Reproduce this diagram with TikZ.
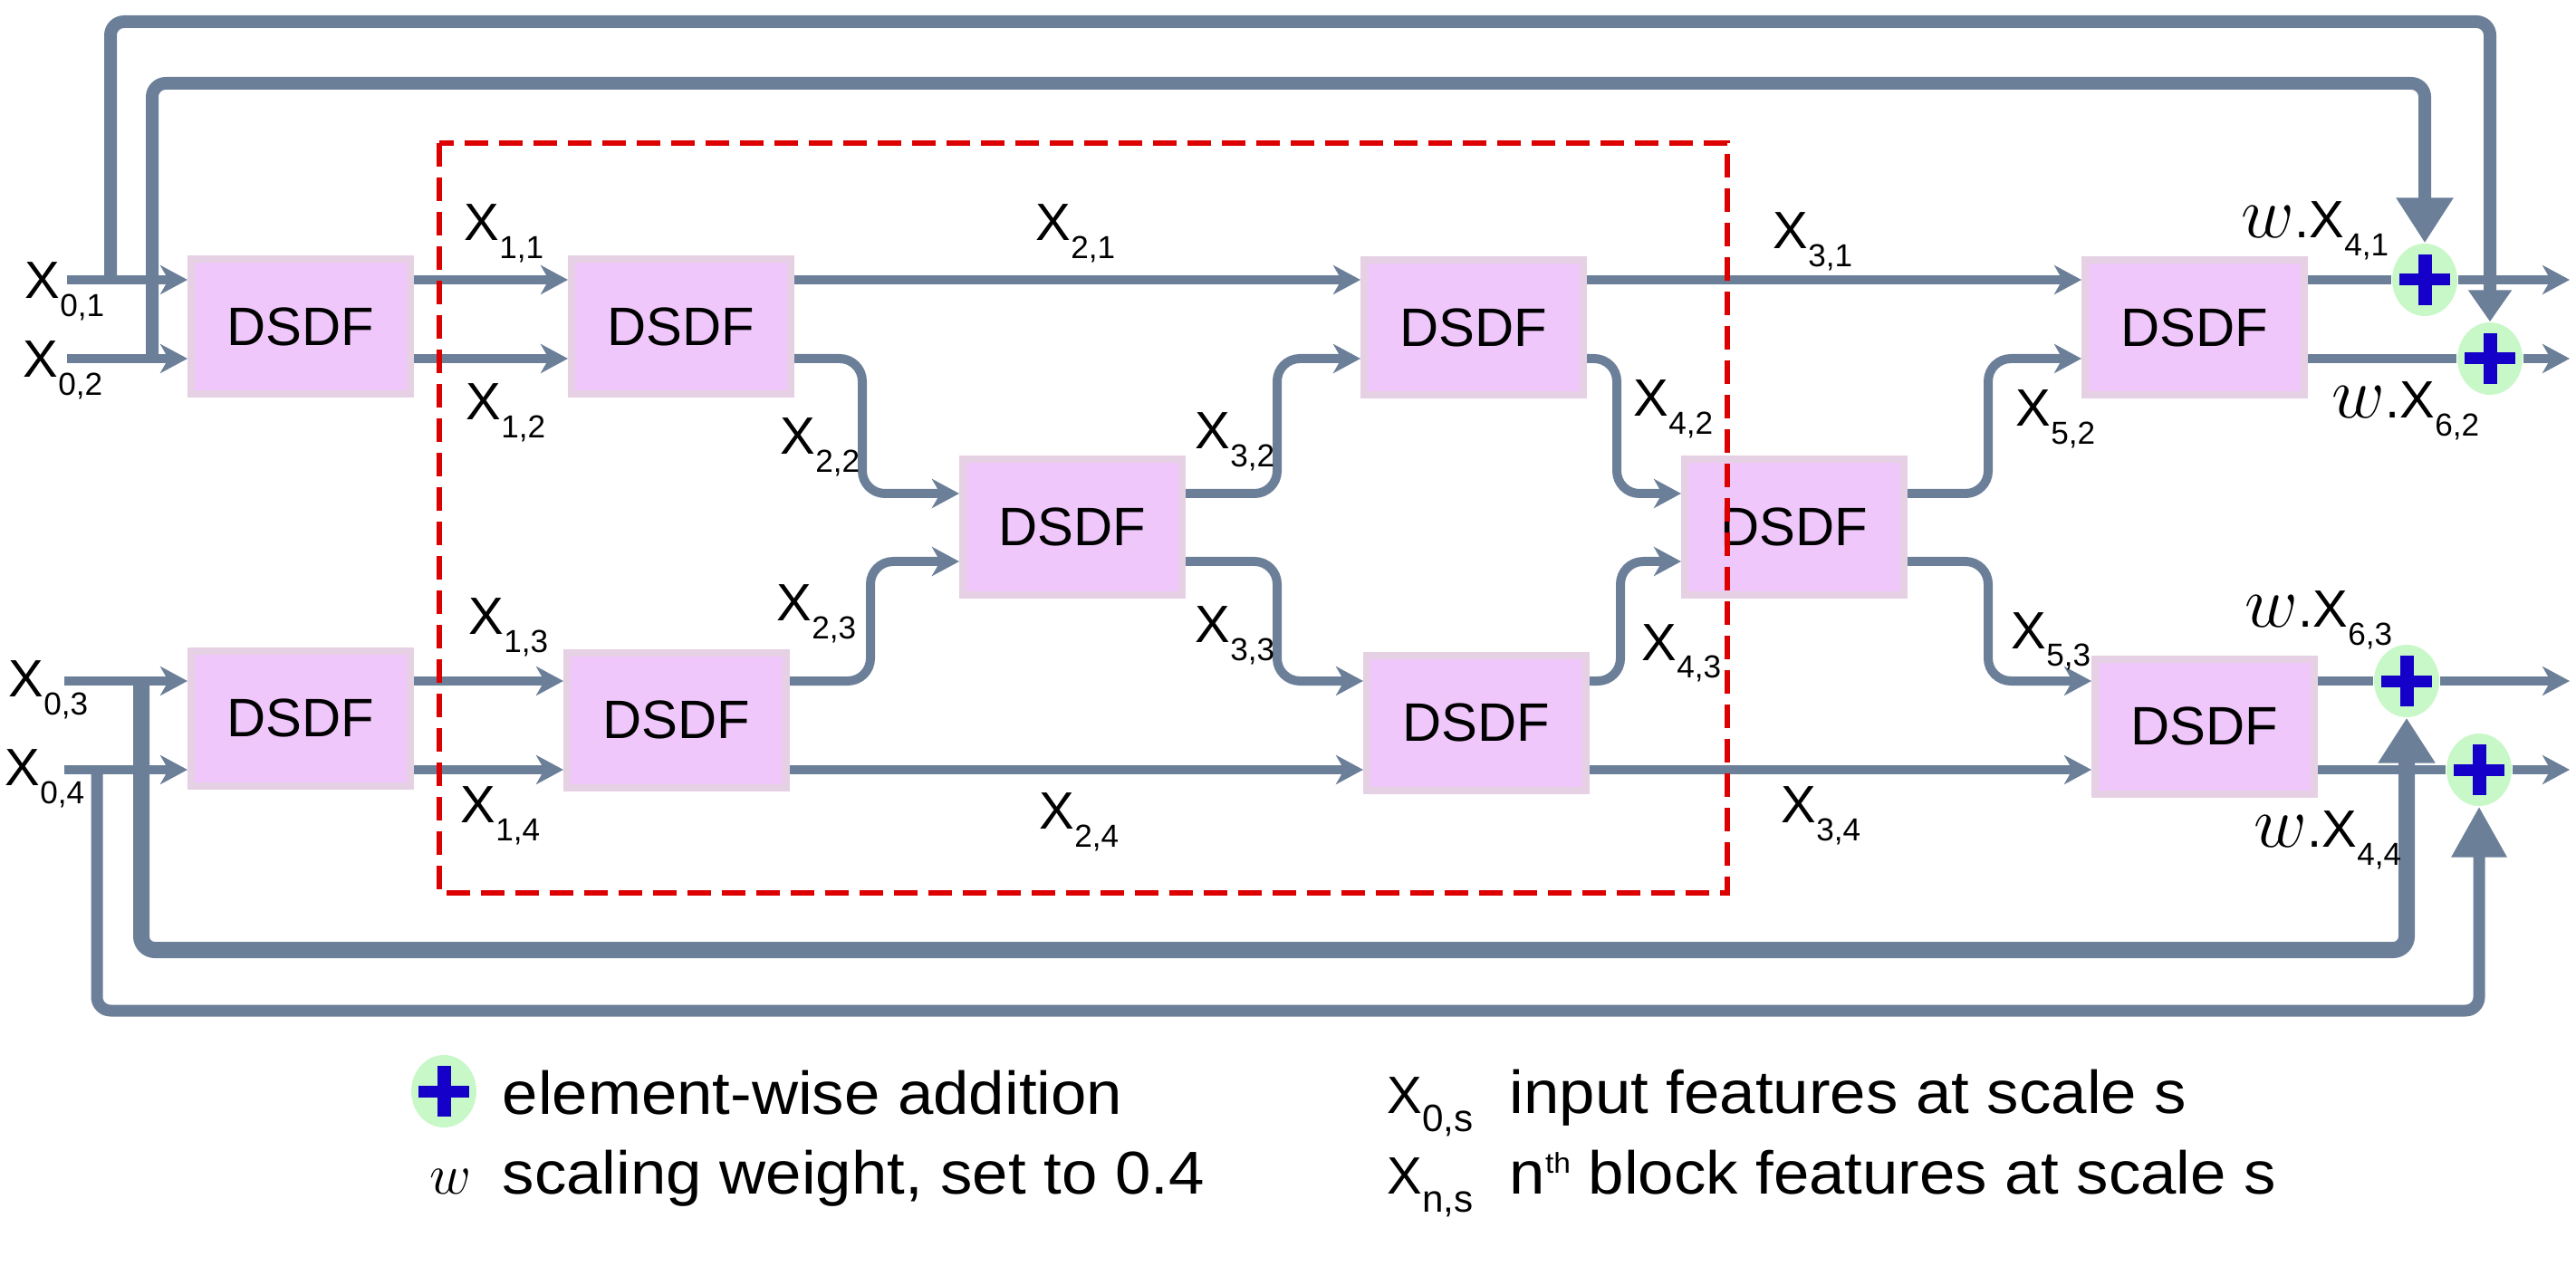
\documentclass[tikz,border=0pt]{standalone}
\usepackage{fix-cm}
\usepackage{fontspec}
\setmainfont{Liberation Sans}
\newfontfamily\legfont[FakeStretch=1.06]{Liberation Sans}
\usetikzlibrary{arrows.meta,shapes.geometric}

\definecolor{linegray}{RGB}{108,127,153}
\definecolor{boxfill}{RGB}{239,199,251}
\definecolor{boxedge}{RGB}{230,208,228}
\definecolor{addgreen}{RGB}{200,248,200}
\definecolor{addblue}{RGB}{20,0,200}
\definecolor{blockred}{RGB}{220,0,0}

\newcommand{\xs}[2][10]{X\raisebox{-2mm}{\fontsize{#1}{#1}\selectfont #2}}
\newcommand{\wdot}[1][23]{{\fontsize{#1}{#1}\selectfont$w$}.}

\tikzset{
  dsdf/.style={draw=boxedge, line width=0.8mm, fill=boxfill, minimum width=2.42cm, minimum height=1.49cm, inner sep=0pt, font=\fontsize{17}{20}\selectfont},
  conn/.style={draw=linegray, line width=1mm, rounded corners=2.5mm, -{Stealth[length=3mm,width=3.2mm,inset=0.9mm]}},
  link/.style={draw=linegray, line width=1mm},
  skipline/.style={draw=linegray, line width=1.4mm, rounded corners=1.5mm},
  lab/.style={anchor=base west, inner sep=0pt, font=\fontsize{16.5}{18}\selectfont},
  legtext/.style={anchor=base west, inner sep=0pt, font=\legfont\fontsize{19}{22}\selectfont},
  addnode/.style={ellipse, fill=addgreen, minimum width=7.2mm, minimum height=8mm, inner sep=0pt,
    path picture={
      \fill[addblue] ([xshift=-2.8mm,yshift=-0.65mm]path picture bounding box.center) rectangle ([xshift=2.8mm,yshift=0.65mm]path picture bounding box.center);
      \fill[addblue] ([xshift=-0.75mm,yshift=-2.8mm]path picture bounding box.center) rectangle ([xshift=0.75mm,yshift=2.8mm]path picture bounding box.center);}},
  block/.style={draw=blockred, line width=0.6mm, dash pattern=on 2.6mm off 1.2mm}
}

\begin{document}
\begin{tikzpicture}
\useasboundingbox (0,0) rectangle (28.44,-13.98);

% righe delle porte
\coordinate (r1) at (0,-3.09);
\coordinate (r2) at (0,-3.96);
\coordinate (m1) at (0,-5.45);
\coordinate (m2) at (0,-6.20);
\coordinate (b1) at (0,-7.52);
\coordinate (b2) at (0,-8.50);

% blocchi DSDF
\node[dsdf] (A1) at (3.32,-3.61) {DSDF};
\node[dsdf] (A2) at (3.32,-7.93) {DSDF};
\node[dsdf] (B1) at (7.52,-3.61) {DSDF};
\node[dsdf] (B2) at (7.47,-7.95) {DSDF};
\node[dsdf] (C)  at (11.84,-5.82) {DSDF};
\node[dsdf] (D1) at (16.27,-3.62) {DSDF};
\node[dsdf] (D2) at (16.30,-7.98) {DSDF};
\node[dsdf] (E)  at (19.81,-5.82) {DSDF};
\node[dsdf] (F1) at (24.23,-3.62) {DSDF};
\node[dsdf] (F2) at (24.34,-8.02) {DSDF};

% nodi di somma
\node[addnode] (P1) at (26.77,-3.09) {};
\node[addnode] (P2) at (27.49,-3.96) {};
\node[addnode] (P3) at (26.57,-7.52) {};
\node[addnode] (P4) at (27.37,-8.50) {};

% salti lunghi
\coordinate (t1) at (0,-0.24);
\coordinate (t2) at (0,-0.92);
\coordinate (t3) at (0,-10.49);
\coordinate (t4) at (0,-11.16);
\coordinate (tap1) at (1.22,-3.09);
\coordinate (tap2) at (1.68,-3.96);
\coordinate (tap3) at (1.56,-7.52);
\coordinate (tap4) at (1.07,-8.50);
\draw[skipline, -{Triangle[length=3.5mm,width=4.6mm]}] (tap1) |- (P2 |- t1) -- (P2.north);
\draw[skipline, -{Triangle[length=5mm,width=6mm]}] (tap2) |- (P1 |- t2) -- (P1.north);
\draw[skipline, line width=1.8mm, -{Triangle[length=5mm,width=6mm]}] (tap3) |- (P3 |- t3) -- (P3.south);
\draw[skipline, line width=1.3mm, -{Triangle[length=5.6mm,width=5.8mm]}] (tap4) |- (P4 |- t4) -- (P4.south);

% ingressi
\coordinate (in1) at (0.74,-3.09);
\coordinate (in2) at (0.74,-3.96);
\coordinate (in3) at (0.71,-7.52);
\coordinate (in4) at (0.71,-8.50);
\draw[conn] (in1) -- (A1.west |- in1);
\draw[conn] (in2) -- (A1.west |- in2);
\draw[conn] (in3) -- (A2.west |- in3);
\draw[conn] (in4) -- (A2.west |- in4);

% collegamenti dritti
\draw[conn] (A1.east |- r1) -- (B1.west |- r1);
\draw[conn] (A1.east |- r2) -- (B1.west |- r2);
\draw[conn] (A2.east |- b1) -- (B2.west |- b1);
\draw[conn] (A2.east |- b2) -- (B2.west |- b2);
\draw[conn] (B1.east |- r1) -- (D1.west |- r1);
\draw[conn] (D1.east |- r1) -- (F1.west |- r1);
\draw[conn] (B2.east |- b2) -- (D2.west |- b2);
\draw[conn] (D2.east |- b2) -- (F2.west |- b2);

% collegamenti curvi
\draw[conn] (B1.east |- r2) -- ++(0.75,0) |- (C.west |- m1);
\draw[conn] (B2.east |- b1) -- ++(0.89,0) |- (C.west |- m2);
\draw[conn] (C.east |- m1) -- ++(1.01,0) |- (D1.west |- r2);
\draw[conn] (C.east |- m2) -- ++(1.01,0) |- (D2.west |- b1);
\draw[conn] (D1.east |- r2) -- ++(0.33,0) |- (E.west |- m1);
\draw[conn] (D2.east |- b1) -- ++(0.34,0) |- (E.west |- m2);
\draw[conn] (E.east |- m1) -- ++(0.89,0) |- (F1.west |- r2);
\draw[conn] (E.east |- m2) -- ++(0.89,0) |- (F2.west |- b1);

% uscite
\coordinate (o1) at (28.37,-3.09);
\coordinate (o2) at (28.37,-3.96);
\coordinate (o3) at (28.37,-7.52);
\coordinate (o4) at (28.37,-8.50);
\draw[link] (F1.east |- r1) -- (P1.west);
\draw[link] (F1.east |- r2) -- (P2.west);
\draw[link] (F2.east |- b1) -- (P3.west);
\draw[link] (F2.east |- b2) -- (P4.west);
\draw[conn] (P1.east) -- (o1);
\draw[conn] (P2.east) -- (o2);
\draw[conn] (P3.east) -- (o3);
\draw[conn] (P4.east) -- (o4);

% etichette
\node[lab] (l01) at (0.27,-3.30) {\xs{0,1}};
\node[lab] (l02) at (0.25,-4.17) {\xs{0,2}};
\node[lab] (l03) at (0.09,-7.69) {\xs{0,3}};
\node[lab] (l04) at (0.05,-8.67) {\xs{0,4}};
\node[lab] (l11) at (5.12,-2.66) {\xs{1,1}};
\node[lab] (l12) at (5.14,-4.64) {\xs{1,2}};
\node[lab] (l13) at (5.17,-7.00) {\xs{1,3}};
\node[lab] (l14) at (5.08,-9.08) {\xs{1,4}};
\node[lab] (l21) at (11.43,-2.66) {\xs{2,1}};
\node[lab] (l22) at (8.61,-5.02) {\xs{2,2}};
\node[lab] (l23) at (8.57,-6.85) {\xs{2,3}};
\node[lab] (l24) at (11.47,-9.15) {\xs{2,4}};
\node[lab] (l31) at (19.57,-2.75) {\xs{3,1}};
\node[lab] (l32) at (13.19,-4.96) {\xs{3,2}};
\node[lab] (l33) at (13.19,-7.09) {\xs{3,3}};
\node[lab] (l34) at (19.66,-9.08) {\xs{3,4}};
\node[lab] (l42) at (18.03,-4.60) {\xs{4,2}};
\node[lab] (l43) at (18.12,-7.29) {\xs{4,3}};
\node[lab] (l52) at (22.25,-4.71) {\xs{5,2}};
\node[lab] (l53) at (22.20,-7.16) {\xs{5,3}};
\node[lab] (w41) at (24.74,-2.63) {\wdot\xs{4,1}};
\node[lab] (w62) at (25.74,-4.62) {\wdot\xs{6,2}};
\node[lab] (w63) at (24.78,-6.92) {\wdot\xs{6,3}};
\node[lab] (w44) at (24.88,-9.35) {\wdot\xs{4,4}};

% riquadro tratteggiato
\draw[block] (4.85,-1.58) rectangle (19.07,-9.86);

% legenda
\node[addnode] (LP) at (4.90,-12.05) {};
\node[legtext] (L1) at (5.54,-12.30) {element-wise addition};
\node[legtext] (Lw) at (4.74,-13.18) {{\fontsize{18}{18}\selectfont$w$}};
\node[legtext] (L2) at (5.54,-13.18) {scaling weight, set to 0.4};
\node[lab] (L3x) at (15.31,-12.29) {\xs[12]{0,s}};
\node[legtext] (L3) at (16.66,-12.29) {input features at scale s};
\node[lab] (L4x) at (15.31,-13.18) {\xs[12]{n,s}};
\node[legtext] (L4) at (16.66,-13.18) {n\raisebox{2.3mm}{\fontsize{9}{9}\selectfont th} block features at scale s};

\end{tikzpicture}
\end{document}
